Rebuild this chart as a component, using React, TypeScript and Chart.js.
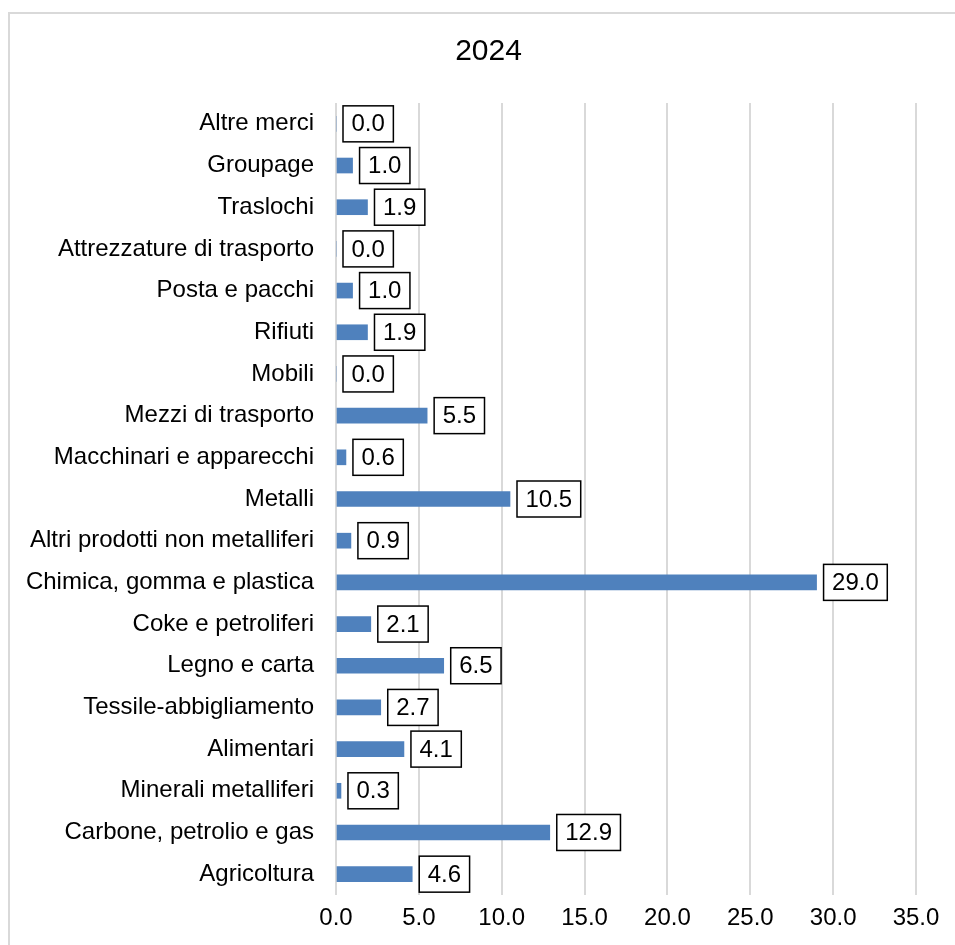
import React, { useEffect, useRef } from "react";
import { Chart, registerables } from "chart.js";

Chart.register(...registerables);

const TITLE = "2024";
const categories = [
  "Altre merci",
  "Groupage",
  "Traslochi",
  "Attrezzature di trasporto",
  "Posta e pacchi",
  "Rifiuti",
  "Mobili",
  "Mezzi di trasporto",
  "Macchinari e apparecchi",
  "Metalli",
  "Altri prodotti non metalliferi",
  "Chimica, gomma e plastica",
  "Coke e petroliferi",
  "Legno e carta",
  "Tessile-abbigliamento",
  "Alimentari",
  "Minerali metalliferi",
  "Carbone, petrolio e gas",
  "Agricoltura",
];
const values = [0.0, 1.0, 1.9, 0.0, 1.0, 1.9, 0.0, 5.5, 0.6, 10.5, 0.9, 29.0, 2.1, 6.5, 2.7, 4.1, 0.3, 12.9, 4.6];
const X_MIN = 0;
const X_MAX = 35;
const X_STEP = 5;

const FONT = "'Liberation Sans', Arial, sans-serif";

const frame = {
  id: "frame",
  beforeDraw(chart: any) {
    const ctx = chart.ctx;
    ctx.save();
    ctx.strokeStyle = "#d9d9d9";
    ctx.lineWidth = 2;
    ctx.beginPath();
    ctx.moveTo(9, 960);
    ctx.lineTo(9, 13);
    ctx.lineTo(970, 13);
    ctx.stroke();
    // title, centred on the full chart frame
    ctx.fillStyle = "#000000";
    ctx.font = `30px ${FONT}`;
    ctx.textAlign = "center";
    ctx.textBaseline = "middle";
    ctx.fillText(TITLE, 488.5, 52);
    ctx.restore();
  },
};

const boxLabels = {
  id: "boxLabels",
  afterDatasetsDraw(chart: any) {
    const ctx = chart.ctx;
    const meta = chart.getDatasetMeta(0);
    const data = chart.data.datasets[0].data as number[];
    ctx.save();
    ctx.font = `24px ${FONT}`;
    ctx.textAlign = "center";
    ctx.textBaseline = "middle";
    meta.data.forEach((el: any, i: number) => {
      const txt = Number(data[i]).toFixed(1);
      const tw = ctx.measureText(txt).width;
      const w = tw + 17;
      const h = 36;
      const left = el.x + 7;
      const top = el.y - h / 2;
      ctx.fillStyle = "#ffffff";
      ctx.fillRect(left, top, w, h);
      ctx.strokeStyle = "#000000";
      ctx.lineWidth = 1.5;
      ctx.strokeRect(left, top, w, h);
      ctx.fillStyle = "#000000";
      ctx.fillText(txt, left + w / 2, el.y + 1);
    });
    ctx.restore();
  },
};

export default function App() {
  const ref = useRef<HTMLCanvasElement>(null);
  useEffect(() => {
    document.body.style.margin = "0";
    document.body.style.overflow = "hidden";
    const chart = new Chart(ref.current as HTMLCanvasElement, {
      type: "bar",
      data: {
        labels: categories,
        datasets: [
          {
            data: values,
            backgroundColor: "#4f81bd",
            borderWidth: 0,
            barThickness: 15,
          },
        ],
      },
      options: {
        indexAxis: "y",
        responsive: false,
        animation: false,
        layout: { padding: { top: 103, left: 0, right: 39, bottom: 0 } },
        plugins: {
          legend: { display: false },
          tooltip: { enabled: false },
          title: { display: false },
        },
        scales: {
          x: {
            min: X_MIN,
            max: X_MAX,
            ticks: {
              stepSize: X_STEP,
              color: "#000000",
              font: { family: FONT, size: 24 },
              padding: 9,
              callback: (v: any) => Number(v).toFixed(1),
            },
            grid: { color: "#d9d9d9", lineWidth: 2, drawTicks: false },
            border: { display: false },
            afterFit: (s: any) => {
              s.height = 50;
            },
          },
          y: {
            ticks: {
              color: "#000000",
              font: { family: FONT, size: 24 },
              padding: 22,
              autoSkip: false,
            },
            grid: { display: false, drawTicks: false },
            border: { display: false },
            afterFit: (s: any) => {
              s.width = 336;
            },
          },
        },
      },
      plugins: [frame, boxLabels],
    });
    return () => chart.destroy();
  }, []);
  return (
    <div style={{ width: 955, height: 945 }}>
      <canvas ref={ref} width={955} height={945} />
    </div>
  );
}
